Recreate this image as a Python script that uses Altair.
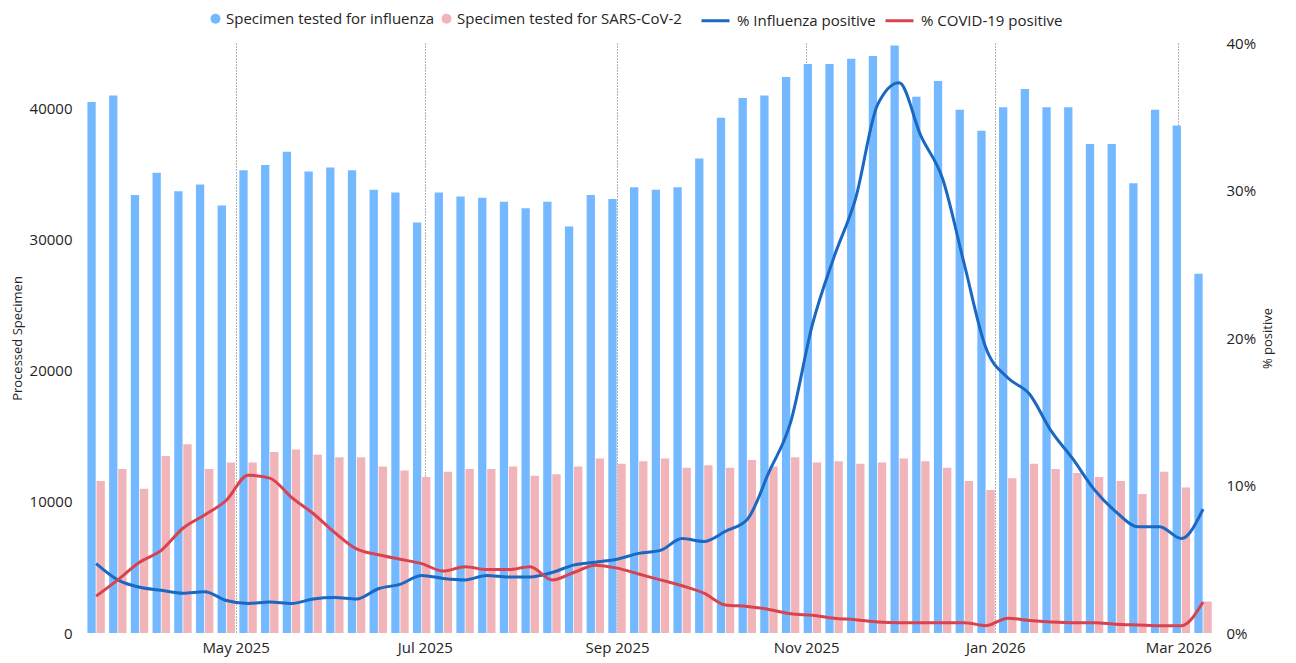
import altair as alt
import pandas as pd

week_dates = [
    "2025-03-17", "2025-03-24", "2025-03-31", "2025-04-07", "2025-04-14", "2025-04-21", "2025-04-28",
    "2025-05-05", "2025-05-12", "2025-05-19", "2025-05-26", "2025-06-02", "2025-06-09", "2025-06-16",
    "2025-06-23", "2025-06-30", "2025-07-07", "2025-07-14", "2025-07-21", "2025-07-28", "2025-08-04",
    "2025-08-11", "2025-08-18", "2025-08-25", "2025-09-01", "2025-09-08", "2025-09-15", "2025-09-22",
    "2025-09-29", "2025-10-06", "2025-10-13", "2025-10-20", "2025-10-27", "2025-11-03", "2025-11-10",
    "2025-11-17", "2025-11-24", "2025-12-01", "2025-12-08", "2025-12-15", "2025-12-22", "2025-12-29",
    "2026-01-05", "2026-01-12", "2026-01-19", "2026-01-26", "2026-02-02", "2026-02-09", "2026-02-16",
    "2026-02-23", "2026-03-02", "2026-03-09",
]

flu_tested = [
    40500, 41000, 33400, 35100, 33700, 34200, 32600, 35300, 35700, 36700, 35200, 35500, 35300,
    33800, 33600, 31300, 33600, 33300, 33200, 32900, 32400, 32900, 31000, 33400, 33100, 34000,
    33800, 34000, 36200, 39300, 40800, 41000, 42400, 43400, 43400, 43800, 44000, 44800, 40900,
    42100, 39900, 38300, 40100, 41500, 40100, 40100, 37300, 37300, 34300, 39900, 38700, 27400,
]

cov_tested = [
    11600, 12500, 11000, 13500, 14400, 12500, 13000, 13000, 13800, 14000, 13600, 13400, 13400,
    12700, 12400, 11900, 12300, 12500, 12500, 12700, 12000, 12100, 12700, 13300, 12900, 13100,
    13300, 12600, 12800, 12600, 13200, 12700, 13400, 13000, 13100, 12900, 13000, 13300, 13100,
    12600, 11600, 10900, 11800, 12900, 12500, 12200, 11900, 11600, 10600, 12300, 11100, 2400,
]

flu_pct = [
    4.7, 3.6, 3.1, 2.9, 2.7, 2.8, 2.2, 2.0, 2.1, 2.0, 2.3, 2.4, 2.3,
    3.0, 3.3, 3.9, 3.7, 3.6, 3.9, 3.8, 3.8, 4.1, 4.6, 4.8, 5.0, 5.4,
    5.6, 6.4, 6.2, 6.9, 7.7, 10.9, 14.3, 20.9, 25.5, 29.5, 35.8, 37.3, 33.7,
    30.8, 25.0, 19.3, 17.3, 16.2, 13.7, 11.8, 9.7, 8.2, 7.2, 7.2, 6.4, 8.4,
]

cov_pct = [
    2.5, 3.6, 4.8, 5.6, 7.1, 8.0, 9.0, 10.7, 10.5, 9.2, 8.1, 6.8, 5.7,
    5.3, 5.0, 4.7, 4.2, 4.5, 4.3, 4.3, 4.5, 3.6, 4.1, 4.6, 4.4, 4.0,
    3.6, 3.2, 2.7, 1.9, 1.8, 1.6, 1.3, 1.2, 1.0, 0.9, 0.75, 0.7, 0.7,
    0.7, 0.7, 0.5, 1.0, 0.85, 0.75, 0.7, 0.7, 0.6, 0.55, 0.5, 0.5, 2.1,
]

bar_names = ["Specimen tested for influenza", "Specimen tested for SARS-CoV-2"]
line_names = ["% Influenza positive", "% COVID-19 positive"]
bar_colors = ["#74B9FF", "#F0B4B9"]
line_colors = ["#1A68C2", "#D9434F"]

left_ticks = [0, 10000, 20000, 30000, 40000]
right_ticks = [0, 10, 20, 30, 40]

df = pd.DataFrame({
    "date": week_dates,
    "flu_n": flu_tested,
    "cov_n": cov_tested,
    "flu_p": flu_pct,
    "cov_p": cov_pct,
})

FONT = "Open Sans"
TXT = "#252423"

x_enc = alt.X(
    "date:T",
    scale=alt.Scale(
        type="utc",
        domain=[
            alt.DateTime(year=2025, month=3, date=13, hours=10, utc=True),
            alt.DateTime(year=2026, month=3, date=12, hours=5, utc=True),
        ],
    ),
    axis=alt.Axis(
        title=None,
        values=[
            alt.DateTime(year=2025, month=5, date=1, utc=True),
            alt.DateTime(year=2025, month=7, date=1, utc=True),
            alt.DateTime(year=2025, month=9, date=1, utc=True),
            alt.DateTime(year=2025, month=11, date=1, utc=True),
            alt.DateTime(year=2026, month=1, date=1, utc=True),
            alt.DateTime(year=2026, month=3, date=1, utc=True),
        ],
        labelExpr="utcFormat(datum.value, '%b %Y')",
        grid=True,
        gridDash=[1, 2],
        gridColor="#666666",
        gridWidth=1,
        domain=False,
        ticks=False,
        labelPadding=7,
        labelFontSize=15,
    ),
)

yl_scale = alt.Scale(domain=[0, 45000], nice=False)
yl_axis = alt.Axis(
    title="Processed Specimen",
    orient="left",
    values=left_ticks,
    format="d",
    grid=False,
    domain=False,
    ticks=False,
    labelPadding=8,
    titlePadding=5,
    titleFontSize=13,
    labelFontSize=15,
)

yr_scale = alt.Scale(domain=[0, 40], nice=False)
yr_axis = alt.Axis(
    title="% positive",
    orient="right",
    values=right_ticks,
    labelExpr="datum.value + '%'",
    grid=False,
    domain=False,
    ticks=False,
    labelPadding=8,
    titlePadding=19,
    titleFontSize=13,
    titleAngle=270,
    labelFontSize=15,
)

fill_scale = alt.Scale(domain=bar_names, range=bar_colors)
fill_legend = alt.Legend(
    orient="none",
    legendX=128,
    legendY=-32,
    direction="horizontal",
    title=None,
    symbolType="circle",
    symbolSize=100,
    symbolStrokeWidth=0,
    labelOffset=3,
    columnPadding=4,
    labelFontSize=15,
    labelLimit=400,
    padding=0,
)

stroke_scale = alt.Scale(domain=line_names, range=line_colors)
stroke_legend = alt.Legend(
    orient="none",
    legendX=620,
    legendY=-38,
    direction="horizontal",
    title=None,
    symbolType="stroke",
    symbolSize=784,
    symbolStrokeWidth=3,
    labelOffset=6,
    columnPadding=3,
    labelFontSize=15,
    labelLimit=400,
    padding=0,
)

base = alt.Chart(df)

bar_flu = base.mark_bar(width=8.3, xOffset=-4.55).transform_calculate(
    series=f"'{bar_names[0]}'"
).encode(
    x=x_enc,
    y=alt.Y("flu_n:Q", scale=yl_scale, axis=yl_axis),
    fill=alt.Fill("series:N", scale=fill_scale, legend=fill_legend),
)
bar_cov = base.mark_bar(width=8.3, xOffset=4.55).transform_calculate(
    series=f"'{bar_names[1]}'"
).encode(
    x=x_enc,
    y=alt.Y("cov_n:Q", scale=yl_scale, axis=yl_axis),
    fill=alt.Fill("series:N", scale=fill_scale, legend=fill_legend),
)

line_flu = base.mark_line(strokeWidth=3, interpolate="monotone").transform_calculate(
    series=f"'{line_names[0]}'"
).encode(
    x=x_enc,
    y=alt.Y("flu_p:Q", scale=yr_scale, axis=yr_axis),
    stroke=alt.Stroke("series:N", scale=stroke_scale, legend=stroke_legend),
)
line_cov = base.mark_line(strokeWidth=3, interpolate="monotone").transform_calculate(
    series=f"'{line_names[1]}'"
).encode(
    x=x_enc,
    y=alt.Y("cov_p:Q", scale=yr_scale, axis=yr_axis),
    stroke=alt.Stroke("series:N", scale=stroke_scale, legend=stroke_legend),
)

left = alt.layer(bar_flu, bar_cov)
right = alt.layer(line_flu, line_cov)

chart = (
    alt.layer(left, right)
    .resolve_scale(y="independent")
    .properties(
        width=1138,
        height=590,
        autosize=alt.AutoSizeParams(type="none"),
        padding={"left": 72, "top": 35, "right": 70, "bottom": 28},
    )
    .configure(font=FONT)
    .configure_view(stroke=None)
    .configure_axis(labelColor=TXT, titleColor=TXT, labelFont=FONT, titleFont=FONT, titleFontWeight="normal")
    .configure_legend(labelColor=TXT, labelFont=FONT)
)

chart.save("out.html", embed_options={"renderer": "svg", "actions": False})
